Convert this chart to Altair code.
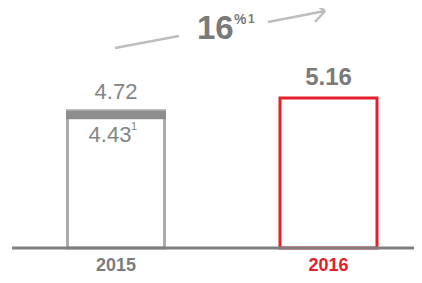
import altair as alt
import pandas as pd

years = ["2015", "2016"]
values = [4.72, 5.16]
value_labels = ["4.72", "5.16"]
bar_colors = ["#acacac", "#e4212b"]
restated_year = ["2015"]
restated_value = [4.43]
restated_label = ["4.43"]
growth_label = "16"

df = pd.DataFrame({"year": years, "value": values, "label": value_labels, "col": bar_colors})
rdf = pd.DataFrame({"year": restated_year, "lo": restated_value, "hi": [values[0]], "label": restated_label})

FONT = "Liberation Sans"
x = alt.X("year:N", sort=years,
          scale=alt.Scale(type="band", range=[1.75, 426.75], paddingInner=0, paddingOuter=0),
          axis=alt.Axis(title=None, domain=False, ticks=False, labelFont=FONT, labelFontSize=18,
                        labelAngle=0, labelFontWeight="bold", labelPadding=8, labelBaseline="top",
                        labelColor=alt.expr("datum.value == '2016' ? '#e4212b' : '#7c7c7c'")))
yscale = alt.Scale(domain=[0, 8.256], nice=False, zero=True)

base = alt.Chart(df)
bars = base.mark_bar(width=97, fill="white", strokeWidth=3).encode(
    x=x, y=alt.Y("value:Q", scale=yscale, axis=None),
    stroke=alt.Stroke("col:N", scale=None))

band = alt.Chart(rdf).mark_bar(width=100, color="#8e8e8e").encode(
    x=x, y=alt.Y("hi:Q", scale=yscale), y2="lo:Q")

lab15 = base.transform_filter("datum.year == '2015'").mark_text(
    font=FONT, fontSize=22, color="#858585", baseline="alphabetic", dy=-12).encode(
    x=x, y=alt.Y("value:Q", scale=yscale), text="label:N")
lab16 = base.transform_filter("datum.year == '2016'").mark_text(
    font=FONT, fontSize=24, fontWeight="bold", color="#7a7a7a", baseline="alphabetic", dy=-13).encode(
    x=x, y=alt.Y("value:Q", scale=yscale), text="label:N")

rlab = alt.Chart(rdf).mark_text(font=FONT, fontSize=22, color="#858585", baseline="alphabetic",
                                dx=-6, dy=23).encode(
    x=x, y=alt.Y("lo:Q", scale=yscale), text="label:N")
rsup = alt.Chart(rdf).mark_text(font=FONT, fontSize=11, color="#858585", baseline="alphabetic",
                                dx=18, dy=11).encode(
    x=x, y=alt.Y("lo:Q", scale=yscale), text=alt.value("1"))

baseline = alt.Chart(pd.DataFrame({"v": [0]})).mark_rule(color="#7f7f80", strokeWidth=3).encode(
    y=alt.Y("v:Q", scale=yscale), x=alt.value(4), x2=alt.value(406))

gray = "#bdbdbd"
arrow1 = alt.Chart(pd.DataFrame({"a": [0]})).mark_rule(color=gray, strokeWidth=2.5).encode(
    x=alt.value(107), y=alt.value(40), x2=alt.value(171), y2=alt.value(28))
arrow2 = alt.Chart(pd.DataFrame({"a": [0]})).mark_rule(color=gray, strokeWidth=2.5).encode(
    x=alt.value(260), y=alt.value(14), x2=alt.value(317), y2=alt.value(3))
head1 = alt.Chart(pd.DataFrame({"a": [0]})).mark_rule(color=gray, strokeWidth=2.5).encode(
    x=alt.value(305), y=alt.value(-5), x2=alt.value(317), y2=alt.value(3))
head2 = alt.Chart(pd.DataFrame({"a": [0]})).mark_rule(color=gray, strokeWidth=2.5).encode(
    x=alt.value(307), y=alt.value(14), x2=alt.value(317), y2=alt.value(3))

gtext = alt.Chart(pd.DataFrame({"t": [growth_label]})).mark_text(
    font=FONT, fontSize=33, fontWeight="bold", color="#7a7a7a", align="left", baseline="alphabetic").encode(
    x=alt.value(189), y=alt.value(31), text="t:N")
gpct = alt.Chart(pd.DataFrame({"t": ["%"]})).mark_text(
    font=FONT, fontSize=14, fontWeight="bold", color="#7a7a7a", align="left", baseline="alphabetic").encode(
    x=alt.value(226), y=alt.value(16), text="t:N")
gsup = alt.Chart(pd.DataFrame({"t": ["1"]})).mark_text(
    font=FONT, fontSize=12, fontWeight="bold", color="#7a7a7a", align="left", baseline="alphabetic").encode(
    x=alt.value(240), y=alt.value(15), text="t:N")

chart = alt.layer(bars, band, baseline, lab15, lab16, rlab, rsup,
                  arrow1, arrow2, head1, head2, gtext, gpct, gsup).properties(
    width=406, height=240,
    autosize=alt.AutoSizeParams(type="none"),
    padding={"left": 0, "top": 0, "right": 0, "bottom": 27},
).configure_view(stroke=None)

chart.save("out.html", embed_options={"renderer": "svg", "actions": False})
